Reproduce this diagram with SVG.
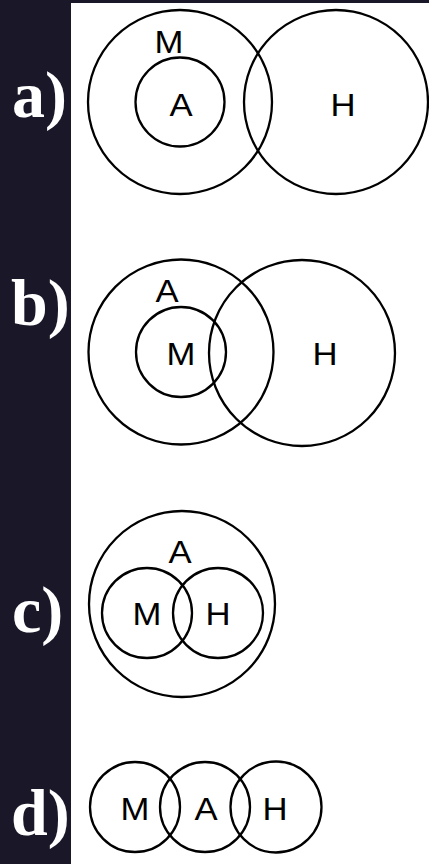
<svg xmlns="http://www.w3.org/2000/svg" width="429" height="864" viewBox="0 0 429 864">
<style>
.c{fill:none;stroke:#000;stroke-width:2.3}
.t{font-family:"Liberation Sans",Arial,sans-serif;font-size:31px;fill:#000;text-anchor:middle}
.p{font-family:"Liberation Serif","Times New Roman",serif;font-weight:bold;font-size:66px;fill:#fff}
</style>
<rect x="0" y="0" width="429" height="864" fill="#fff"/>
<rect x="0" y="0" width="71" height="864" fill="#1a1729"/>
<rect x="0" y="0" width="429" height="3" fill="#1a1729"/>
<g id="panel-labels">
<text class="p" x="12" y="117">a)</text>
<text class="p" x="11" y="325">b)</text>
<text class="p" x="12" y="632">c)</text>
<text class="p" x="11" y="835">d)</text>
</g>
<g id="a">
<g id="a-M"><circle class="c" cx="180" cy="102" r="92"/><text class="t" transform="translate(169 53) scale(1.12 1)">M</text></g>
<g id="a-A"><circle class="c" cx="180" cy="102" r="44.5"/><text class="t" transform="translate(181 116) scale(1.12 1)">A</text></g>
<g id="a-H"><circle class="c" cx="336" cy="102" r="92"/><text class="t" transform="translate(343 116) scale(1.12 1)">H</text></g>
</g>
<g id="b">
<g id="b-A"><circle class="c" cx="181" cy="352" r="92.5"/><text class="t" transform="translate(167 302) scale(1.12 1)">A</text></g>
<g id="b-M"><circle class="c" cx="181" cy="352" r="45"/><text class="t" transform="translate(181 365) scale(1.12 1)">M</text></g>
<g id="b-H"><circle class="c" cx="302" cy="353" r="93"/><text class="t" transform="translate(325 365) scale(1.12 1)">H</text></g>
</g>
<g id="c">
<g id="c-A"><circle class="c" cx="182" cy="604" r="93"/><text class="t" transform="translate(180 563) scale(1.12 1)">A</text></g>
<g id="c-M"><circle class="c" cx="147" cy="613" r="45"/><text class="t" transform="translate(147 625) scale(1.12 1)">M</text></g>
<g id="c-H"><circle class="c" cx="218" cy="613" r="45"/><text class="t" transform="translate(218 625) scale(1.12 1)">H</text></g>
</g>
<g id="d">
<g id="d-M"><circle class="c" cx="135" cy="807" r="45"/><text class="t" transform="translate(135 820) scale(1.12 1)">M</text></g>
<g id="d-A"><circle class="c" cx="205" cy="807" r="45"/><text class="t" transform="translate(206 820) scale(1.12 1)">A</text></g>
<g id="d-H"><circle class="c" cx="276" cy="807" r="45.5"/><text class="t" transform="translate(275 820) scale(1.12 1)">H</text></g>
</g>
<g id="connectors"/>
</svg>
